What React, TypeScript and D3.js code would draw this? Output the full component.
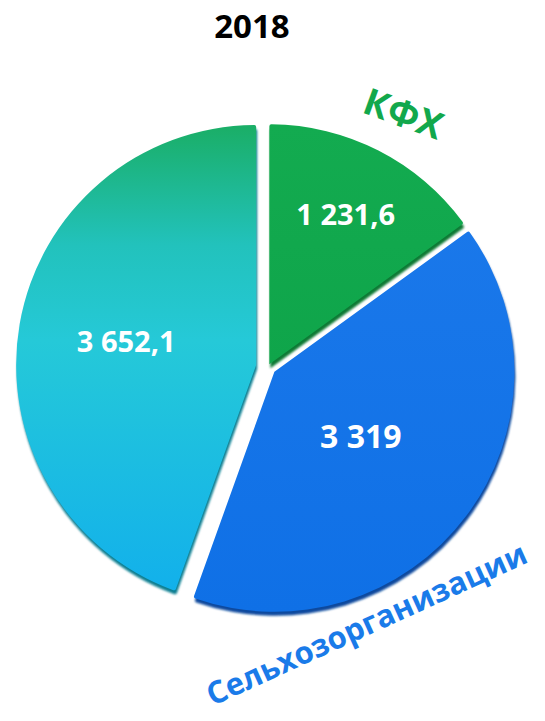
import React from "react";
import * as d3 from "d3";

const categories = ["КФХ", "Сельхозорганизации", "Хозяйства населения"];
const values = [1231.6, 3319, 3652.1];
const valueLabels = ["1 231,6", "3 319", "3 652,1"];
const title = "2018";

const W = 545;
const H = 721;
const cx = 268;
const cy = 367;
const R = 240;
const explode = [3, 8, 12];
const fills = ["url(#gGreen)", "url(#gBlue)", "url(#gCyan)"];
const rims = ["#0a7a36", "#0b4a9e", "#0c7f92"];
const labelSizes = [29, 32, 29];
const labelR = [0.7, 0.45, 0.55];

export default function App() {
  const pie = d3
    .pie<number>()
    .sort(null)
    .startAngle(0)
    .endAngle(2 * Math.PI)
    .value((d) => d);
  const arcs = pie(values);
  const arc = d3.arc<d3.PieArcDatum<number>>().innerRadius(0).outerRadius(R).cornerRadius(2);

  return (
    <svg
      width={W}
      height={H}
      style={{ position: "absolute", left: 0, top: 0, background: "#fff" }}
      fontFamily="'Open Sans', sans-serif"
    >
      <defs>
        <linearGradient id="gCyan" gradientUnits="userSpaceOnUse" x1="0" y1={-R} x2="0" y2={R}>
          <stop offset="0" stopColor="#1aae66" />
          <stop offset="0.25" stopColor="#22c2bc" />
          <stop offset="0.45" stopColor="#25c9d8" />
          <stop offset="1" stopColor="#11afec" />
        </linearGradient>
        <linearGradient id="gGreen" gradientUnits="userSpaceOnUse" x1="0" y1={-R} x2="0" y2={0}>
          <stop offset="0" stopColor="#13ab50" />
          <stop offset="1" stopColor="#0fa54a" />
        </linearGradient>
        <linearGradient id="gBlue" gradientUnits="userSpaceOnUse" x1="0" y1={-150} x2="0" y2={R}>
          <stop offset="0" stopColor="#1a78ea" />
          <stop offset="1" stopColor="#0f70e6" />
        </linearGradient>
        <filter id="soft" x="-20%" y="-20%" width="140%" height="140%">
          <feGaussianBlur stdDeviation="1.2" />
        </filter>
      </defs>

      <text x={252} y={38} textAnchor="middle" fontSize={33} fontWeight="bold" fill="#000">
        {title}
      </text>

      {arcs.map((a, i) => {
        const mid = (a.startAngle + a.endAngle) / 2;
        const dx = Math.sin(mid) * explode[i];
        const dy = -Math.cos(mid) * explode[i];
        const d = arc(a) || "";
        return (
          <g key={i} transform={`translate(${cx + dx},${cy + dy})`}>
            <path d={d} fill={rims[i]} transform="translate(1,4)" filter="url(#soft)" />
            <path d={d} fill={fills[i]} />
          </g>
        );
      })}

      {arcs.map((a, i) => {
        const mid = (a.startAngle + a.endAngle) / 2;
        const rr = R * labelR[i] + explode[i];
        const x = cx + Math.sin(mid) * rr;
        const y = cy - Math.cos(mid) * rr;
        return (
          <text
            key={"l" + i}
            x={x}
            y={y}
            dy="0.35em"
            textAnchor="middle"
            fontSize={labelSizes[i]}
            fontWeight="bold"
            fill="#fff"
          >
            {valueLabels[i]}
          </text>
        );
      })}

      <text
        transform="translate(399,126) rotate(20)"
        textAnchor="middle"
        fontSize={37}
        fontWeight="bold"
        fill="#12a84c"
      >
        {categories[0]}
      </text>
      <text
        transform="translate(371,634) rotate(-24.5)"
        textAnchor="middle"
        fontSize={31}
        fontWeight="bold"
        fill="#1a7be9"
      >
        {categories[1]}
      </text>
    </svg>
  );
}
